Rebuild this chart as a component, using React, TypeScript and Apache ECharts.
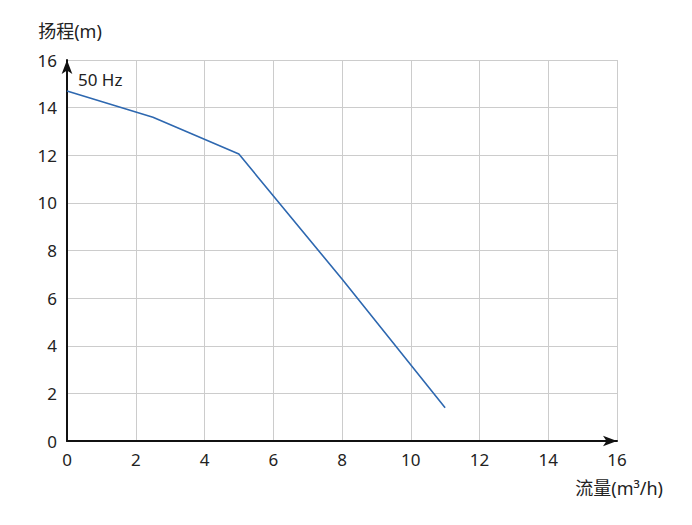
import React, { useEffect, useRef } from "react";
import * as echarts from "echarts";

const flow = [0, 2.5, 5, 8, 11];
const head = [14.7, 13.6, 12.05, 6.8, 1.4];
const curveLabel = "50 Hz";
const xName = "流量(m³/h)";
const yName = "扬程(m)";

export default function App() {
  const ref = useRef<HTMLDivElement>(null);
  useEffect(() => {
    const chart = echarts.init(ref.current!, null, { renderer: "svg" });
    const font = "'Noto Sans', 'Noto Sans CJK SC', sans-serif";
    chart.setOption({
      animation: false,
      backgroundColor: "#fff",
      textStyle: { fontFamily: font },
      grid: { left: 67, right: 75, top: 60, bottom: 84 },
      xAxis: {
        type: "value",
        min: 0,
        max: 16,
        interval: 2,
        name: xName,
        nameLocation: "end",
        nameGap: 0,
        nameTextStyle: {
          fontSize: 18,
          color: "#222",
          fontFamily: font,
          align: "right",
          verticalAlign: "top",
          padding: [38, -46, 0, 0],
        },
        axisLine: {
          show: true,
          symbol: ["none", "arrow"],
          symbolSize: [8, 14],
          symbolOffset: [0, 0],
          lineStyle: { color: "#111", width: 2 },
        },
        axisTick: { show: false },
        axisLabel: { fontSize: 17, color: "#222", margin: 10, fontFamily: font },
        splitLine: { show: true, lineStyle: { color: "#cccccc", width: 1 } },
      },
      yAxis: {
        type: "value",
        min: 0,
        max: 16,
        interval: 2,
        name: yName,
        nameLocation: "end",
        nameGap: 20,
        nameTextStyle: {
          fontSize: 18,
          color: "#222",
          fontFamily: font,
          align: "center",
          padding: [0, 0, 0, 6],
        },
        axisLine: {
          show: true,
          symbol: ["none", "arrow"],
          symbolSize: [8, 14],
          lineStyle: { color: "#111", width: 2 },
        },
        axisTick: { show: false },
        axisLabel: { fontSize: 17, color: "#222", margin: 10, fontFamily: font },
        splitLine: { show: true, lineStyle: { color: "#cccccc", width: 1 } },
      },
      graphic: [
        {
          type: "text",
          left: 78,
          top: 71,
          style: { text: curveLabel, fontSize: 17, fill: "#222", fontFamily: font },
        },
      ],
      series: [
        {
          type: "line",
          data: flow.map((x, i) => [x, head[i]]),
          showSymbol: false,
          symbol: "none",
          lineStyle: { color: "#2e68b0", width: 1.6 },
        },
      ],
    });
    return () => chart.dispose();
  }, []);
  return <div ref={ref} style={{ width: 692, height: 525, position: "absolute", left: 0, top: 0 }} />;
}
